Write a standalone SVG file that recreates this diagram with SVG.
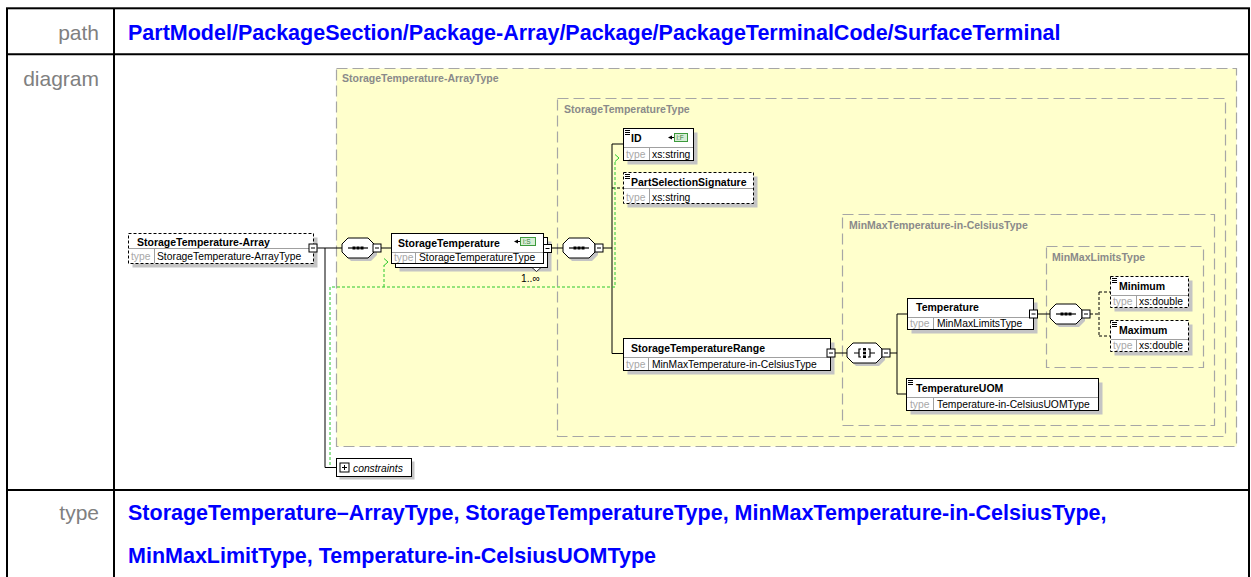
<svg xmlns="http://www.w3.org/2000/svg" width="1251" height="577" viewBox="0 0 1251 577">
<style>
.frame{fill:none;stroke:#000;stroke-width:2}
.lbl{font-family:"Liberation Sans",Arial,sans-serif;font-size:21px;fill:#808080;text-anchor:end}
.val{font-family:"Liberation Sans",Arial,sans-serif;font-size:21.5px;font-weight:bold;fill:#0000FF}
.ctr{fill:#FFFFCC;stroke:#A6A6A6;stroke-width:1.2;stroke-dasharray:11 5}
.ctl{font-family:"Liberation Sans",Arial,sans-serif;font-size:10.5px;font-weight:bold;fill:#8A8A8A}
.shd{fill:#C4C4C4}
.box{fill:#fff;stroke:#000;stroke-width:1}
.opt{stroke-dasharray:3 2}
.sep{fill:none;stroke:#A0A0A0;stroke-width:1}
.ic{fill:none;stroke:#000;stroke-width:1}
.nm{font-family:"Liberation Sans",Arial,sans-serif;font-size:10.5px;font-weight:bold;fill:#000}
.tv{font-family:"Liberation Sans",Arial,sans-serif;font-size:10.3px;fill:#000}
.tk{font-family:"Liberation Sans",Arial,sans-serif;font-size:10.3px;fill:#A8A8A8}
.ln{fill:none;stroke:#000;stroke-width:1}
.dln{fill:none;stroke:#000;stroke-width:1;stroke-dasharray:3 2}
.key{fill:none;stroke:#2DC82D;stroke-width:1;stroke-dasharray:3 2}
.keyh{fill:none;stroke:#2DC82D;stroke-width:1}
.idc{fill:#D6EED6;stroke:#3C9A3C;stroke-width:1}
.idt{font-family:"Liberation Sans",Arial,sans-serif;font-size:6.5px;fill:#3C7A3C}
</style>
<defs>
  <g id="minus">
    <rect x="-4" y="-4" width="8" height="8" fill="#fff" stroke="#000" stroke-width="1"/>
    <path d="M-2,0H2" stroke="#000" stroke-width="1"/>
  </g>
  <g id="plus">
    <rect x="-4.5" y="-4.5" width="9" height="9" fill="#fff" stroke="#000" stroke-width="1"/>
    <path d="M-2.5,0H2.5M0,-2.5V2.5" stroke="#000" stroke-width="1"/>
  </g>
  <path id="octa" d="M6,-10H26L32,-4V4L26,10H6L0,4V-4Z"/>
  <path id="octc" d="M6,-10H29L35,-4V4L29,10H6L0,4V-4Z"/>
  <g id="seq">
    <use href="#octa" x="3" y="3" fill="#C4C4C4"/>
    <use href="#octa" fill="#fff" stroke="#000" stroke-width="1" stroke-linejoin="round"/>
    <path d="M6,0H26" stroke="#000" stroke-width="1.2"/>
    <rect x="10.5" y="-1.5" width="3" height="3" fill="#000"/>
    <rect x="14.5" y="-1.5" width="3" height="3" fill="#000"/>
    <rect x="18.5" y="-1.5" width="3" height="3" fill="#000"/>
  </g>
  <g id="cho">
    <use href="#octc" x="3" y="3" fill="#C4C4C4"/>
    <use href="#octc" fill="#fff" stroke="#000" stroke-width="1" stroke-linejoin="round"/>
    <path d="M7,0H12M14,-4H12V4H14M21,-4H23V4H21M23,0H28" fill="none" stroke="#000" stroke-width="1.2"/>
    <rect x="16" y="-5" width="3" height="2.6" fill="#000"/>
    <rect x="16" y="-1.3" width="3" height="2.6" fill="#000"/>
    <rect x="16" y="2.4" width="3" height="2.6" fill="#000"/>
  </g>
  <path id="simple" d="M0,0.5H5M0,2.5H5M0,4.5H5" fill="none" stroke="#000" stroke-width="1"/>
</defs>

<!-- table frame -->
<g id="table">
  <rect class="frame" x="7" y="8.3" width="1242" height="580"/>
  <path class="frame" d="M114,8V577M7,54.3H1249M7,490H1249"/>
  <text class="lbl" x="99" y="39.5">path</text>
  <text class="lbl" x="99" y="86">diagram</text>
  <text class="lbl" x="99" y="520">type</text>
  <text class="val" x="128" y="40">PartModel/PackageSection/Package-Array/Package/PackageTerminalCode/SurfaceTerminal</text>
  <text class="val" x="128" y="520">StorageTemperature–ArrayType, StorageTemperatureType, MinMaxTemperature-in-CelsiusType,</text>
  <text class="val" x="128" y="563">MinMaxLimitType, Temperature-in-CelsiusUOMType</text>
</g>

<!-- complex type containers -->
<g id="ct-array">
  <rect class="ctr" x="336.5" y="68.5" width="900" height="378"/>
  <text class="ctl" x="342" y="82">StorageTemperature-ArrayType</text>
</g>
<g id="ct-storage">
  <rect class="ctr" x="557.5" y="98.5" width="668" height="338"/>
  <text class="ctl" x="564" y="113">StorageTemperatureType</text>
</g>
<g id="ct-minmaxcelsius">
  <rect class="ctr" x="842.5" y="214.5" width="372" height="211"/>
  <text class="ctl" x="849" y="229">MinMaxTemperature-in-CelsiusType</text>
</g>
<g id="ct-minmaxlimits">
  <rect class="ctr" x="1046.5" y="246.5" width="157" height="121"/>
  <text class="ctl" x="1052" y="261">MinMaxLimitsType</text>
</g>

<!-- connectors -->
<g id="connectors">
  <path class="ln" d="M317,248H342M325,248V467.5H336.5M381,248H391.5M551,248H563M603,248H612M612,144V353.5M612,144H623.5M612,353.5H623.5M835,353H847M890,353H897M897,314V394M897,314H907.5M897,394H906.5M1037.5,314H1050"/>
  <path class="dln" d="M612,188H623.5M1090,314H1099M1099,292V336M1099,292H1110.5M1099,336H1110.5"/>
  <path class="key" d="M330,465V287H615V161M384,287V265"/>
  <path class="keyh" d="M384,258.5L388,262L384,265.5M615,154.5L619,158L615,161.5"/>
</g>

<!-- StorageTemperature-Array -->
<g id="n-storage-array">
  <rect class="shd" x="132.5" y="237.5" width="185" height="30"/>
  <rect class="box opt" x="128.5" y="233.5" width="185" height="30"/>
  <path class="sep" d="M129,248.5H313M154.5,248.5V263"/>
  <text class="nm" x="137" y="245.5">StorageTemperature-Array</text>
  <text class="tk" x="131" y="260">type</text>
  <text class="tv" x="157" y="260">StorageTemperature-ArrayType</text>
  <use href="#minus" x="313" y="248"/>
</g>

<g id="seq-1">
  <use href="#seq" x="342" y="248"/>
  <use href="#minus" x="377" y="248"/>
</g>

<!-- StorageTemperature (1..unbounded) -->
<g id="n-storage-temperature">
  <rect class="shd" x="399.5" y="241.5" width="152" height="30"/>
  <rect class="box" x="395.5" y="237.5" width="152" height="30"/>
  <rect class="box" x="391.5" y="233.5" width="152" height="30"/>
  <path class="sep" d="M392,252.5H543M415.5,252.5V263"/>
  <text class="nm" x="398" y="247">StorageTemperature</text>
  <text class="tk" x="394" y="261">type</text>
  <text class="tv" x="419" y="261">StorageTemperatureType</text>
  <path d="M514,241.5L518,239.5V243.5Z" fill="#000"/>
  <path class="ln" d="M516,241.5H520"/>
  <rect class="idc" x="520.5" y="237.5" width="15" height="8"/>
  <text class="idt" x="523" y="244">i:S</text>
  <path d="M532,267.5H541L536.5,271.5Z" fill="#fff" stroke="#000" stroke-width="0.8"/>
  <text class="tv" x="521" y="282">1..∞</text>
  <use href="#minus" x="547.5" y="248.5"/>
</g>

<g id="seq-2">
  <use href="#seq" x="563" y="248"/>
  <use href="#minus" x="599" y="248"/>
</g>

<!-- ID -->
<g id="n-id">
  <rect class="shd" x="627.5" y="132.5" width="70" height="32"/>
  <rect class="box" x="623.5" y="128.5" width="70" height="32"/>
  <path class="sep" d="M624,147.5H693M649.5,147.5V160"/>
  <use href="#simple" x="625" y="130"/>
  <text class="nm" x="631" y="142">ID</text>
  <text class="tk" x="626" y="157.5">type</text>
  <text class="tv" x="652" y="157.5">xs:string</text>
  <path d="M668,137.5L672,135.5V139.5Z" fill="#000"/>
  <path class="ln" d="M670,137.5H674"/>
  <rect class="idc" x="674.5" y="133.5" width="13" height="8"/>
  <text class="idt" x="676.5" y="140">i:F</text>
</g>

<!-- PartSelectionSignature -->
<g id="n-partselectionsignature">
  <rect class="shd" x="627.5" y="176.5" width="130" height="31"/>
  <rect class="box opt" x="623.5" y="172.5" width="130" height="31"/>
  <path class="sep" d="M624,188.5H753M649.5,188.5V203"/>
  <use href="#simple" x="625" y="174"/>
  <text class="nm" x="631" y="185.5">PartSelectionSignature</text>
  <text class="tk" x="626" y="200.5">type</text>
  <text class="tv" x="652" y="200.5">xs:string</text>
</g>

<!-- StorageTemperatureRange -->
<g id="n-storagetemperaturerange">
  <rect class="shd" x="627.5" y="342.5" width="207" height="32"/>
  <rect class="box" x="623.5" y="338.5" width="207" height="32"/>
  <path class="sep" d="M624,357.5H830M648.5,357.5V370"/>
  <text class="nm" x="631" y="351.5">StorageTemperatureRange</text>
  <text class="tk" x="626" y="367.5">type</text>
  <text class="tv" x="652" y="367.5">MinMaxTemperature-in-CelsiusType</text>
  <use href="#minus" x="831" y="353"/>
</g>

<g id="choice-1">
  <use href="#cho" x="847" y="353"/>
  <use href="#minus" x="886" y="353"/>
</g>

<!-- Temperature -->
<g id="n-temperature">
  <rect class="shd" x="911.5" y="302.5" width="126" height="31"/>
  <rect class="box" x="907.5" y="298.5" width="126" height="31"/>
  <path class="sep" d="M908,317.5H1033M933.5,317.5V329"/>
  <text class="nm" x="916" y="311">Temperature</text>
  <text class="tk" x="910" y="327">type</text>
  <text class="tv" x="937" y="327">MinMaxLimitsType</text>
  <use href="#minus" x="1033.5" y="314"/>
</g>

<g id="seq-3">
  <use href="#seq" x="1050" y="314"/>
  <use href="#minus" x="1086" y="314"/>
</g>

<!-- Minimum -->
<g id="n-minimum">
  <rect class="shd" x="1114.5" y="280.5" width="78" height="31"/>
  <rect class="box opt" x="1110.5" y="276.5" width="78" height="31"/>
  <path class="sep" d="M1111,295.5H1188M1136.5,295.5V307"/>
  <use href="#simple" x="1112" y="278"/>
  <text class="nm" x="1119" y="290">Minimum</text>
  <text class="tk" x="1113" y="305">type</text>
  <text class="tv" x="1139" y="305">xs:double</text>
</g>

<!-- Maximum -->
<g id="n-maximum">
  <rect class="shd" x="1114.5" y="324.5" width="78" height="31"/>
  <rect class="box opt" x="1110.5" y="320.5" width="78" height="31"/>
  <path class="sep" d="M1111,339.5H1188M1136.5,339.5V351"/>
  <use href="#simple" x="1112" y="322"/>
  <text class="nm" x="1119" y="334">Maximum</text>
  <text class="tk" x="1113" y="349">type</text>
  <text class="tv" x="1139" y="349">xs:double</text>
</g>

<!-- TemperatureUOM -->
<g id="n-temperatureuom">
  <rect class="shd" x="910.5" y="382.5" width="192" height="32"/>
  <rect class="box" x="906.5" y="378.5" width="192" height="32"/>
  <path class="sep" d="M907,397.5H1098M933.5,397.5V410"/>
  <use href="#simple" x="908" y="380"/>
  <text class="nm" x="916" y="392">TemperatureUOM</text>
  <text class="tk" x="910" y="407.5">type</text>
  <text class="tv" x="937" y="407.5">Temperature-in-CelsiusUOMType</text>
</g>

<!-- identity constraints -->
<g id="n-constraints">
  <rect class="shd" x="339.5" y="461.5" width="75" height="18"/>
  <rect class="box" x="336.5" y="458.5" width="75" height="18"/>
  <use href="#plus" x="344.5" y="467.5"/>
  <text class="tv" x="353" y="471.5" font-style="italic">constraints</text>
</g>
</svg>
